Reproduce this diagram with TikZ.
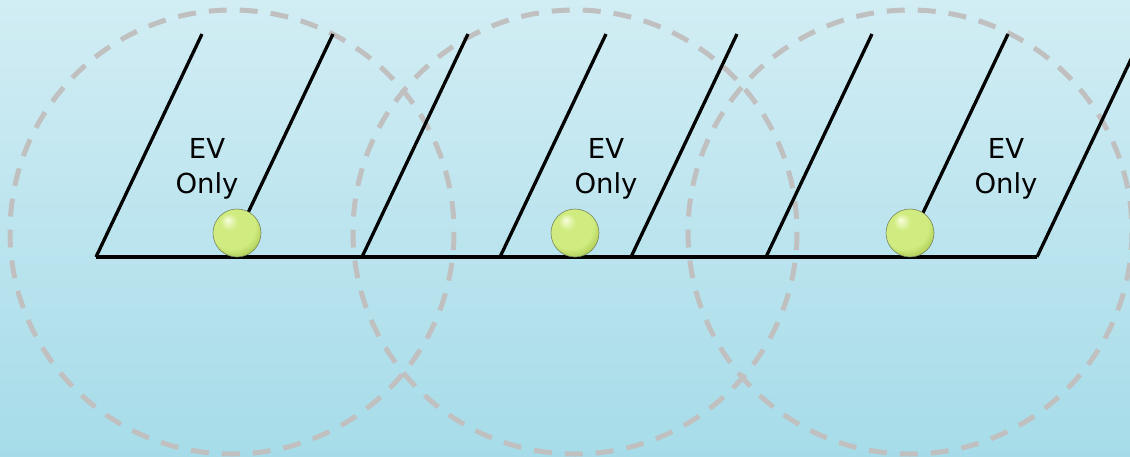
\documentclass[tikz,border=0pt]{standalone}
\usepackage{fontspec}
\newfontfamily\labelfont{DejaVu Sans}

\definecolor{skytop}{RGB}{210,237,244}
\definecolor{skybottom}{RGB}{166,220,233}
\definecolor{rangegray}{RGB}{192,192,192}
\definecolor{ballhi}{RGB}{248,253,220}
\definecolor{ballmid}{RGB}{208,236,128}
\definecolor{balledge}{RGB}{165,195,75}
\definecolor{ballrim}{RGB}{120,135,95}

\pgfdeclareradialshading{evball}{\pgfpoint{-10bp}{14bp}}{%
  color(0bp)=(ballhi); color(9bp)=(ballmid); color(24bp)=(ballmid);
  color(34bp)=(balledge); color(50bp)=(balledge)}

\begin{document}
\begin{tikzpicture}[
    x=1pt, y=-1pt,
    stall/.style={line width=3.3pt, draw=black},
    zonering/.style={draw=rangegray, line width=5pt, dash pattern=on 18pt off 13pt},
    charger/.style={circle, minimum size=48pt, inner sep=0pt, draw=ballrim, line width=0.6pt, shading=evball},
    evlabel/.style={align=center, inner sep=0pt, font=\labelfont\fontsize{27.5}{35}\selectfont}
]

    % ==================== FRAME ====================
    \useasboundingbox (0,0) rectangle (1130,456);
    \clip (0,0) rectangle (1130,456);
    \fill[top color=skytop, bottom color=skybottom] (0,0) rectangle (1130,456);

    % ==================== CHARGER RANGES ====================
    \coordinate (zone1) at (232,232);
    \coordinate (zone2) at (575,232);
    \coordinate (zone3) at (910,232);
    \draw[zonering] (zone1) circle (222);
    \draw[zonering] (zone2) circle (222);
    \draw[zonering] (zone3) circle (222);

    % ==================== PARKING STALLS ====================
    % Slanted dividers (bottom on the curb, top 106 to the right)
    \foreach \bx [count=\i] in {96,227,362,500,631,766,902,1037} {
        \coordinate (sb\i) at (\bx,257);
        \coordinate (st\i) at (\bx+106,34);
        \draw[stall] (sb\i) -- (st\i);
    }
    % Curb line
    \draw[stall] (sb1) -- (sb8);

    % ==================== CHARGERS ====================
    \node[charger] (ev1) at (237,233) {};
    \node[charger] (ev2) at (575,233) {};
    \node[charger] (ev3) at (910,233) {};

    % Stall labels
    \node[evlabel] (lab1) at (207,169) {EV\\Only};
    \node[evlabel] (lab2) at (606,169) {EV\\Only};
    \node[evlabel] (lab3) at (1006,169) {EV\\Only};

\end{tikzpicture}
\end{document}
